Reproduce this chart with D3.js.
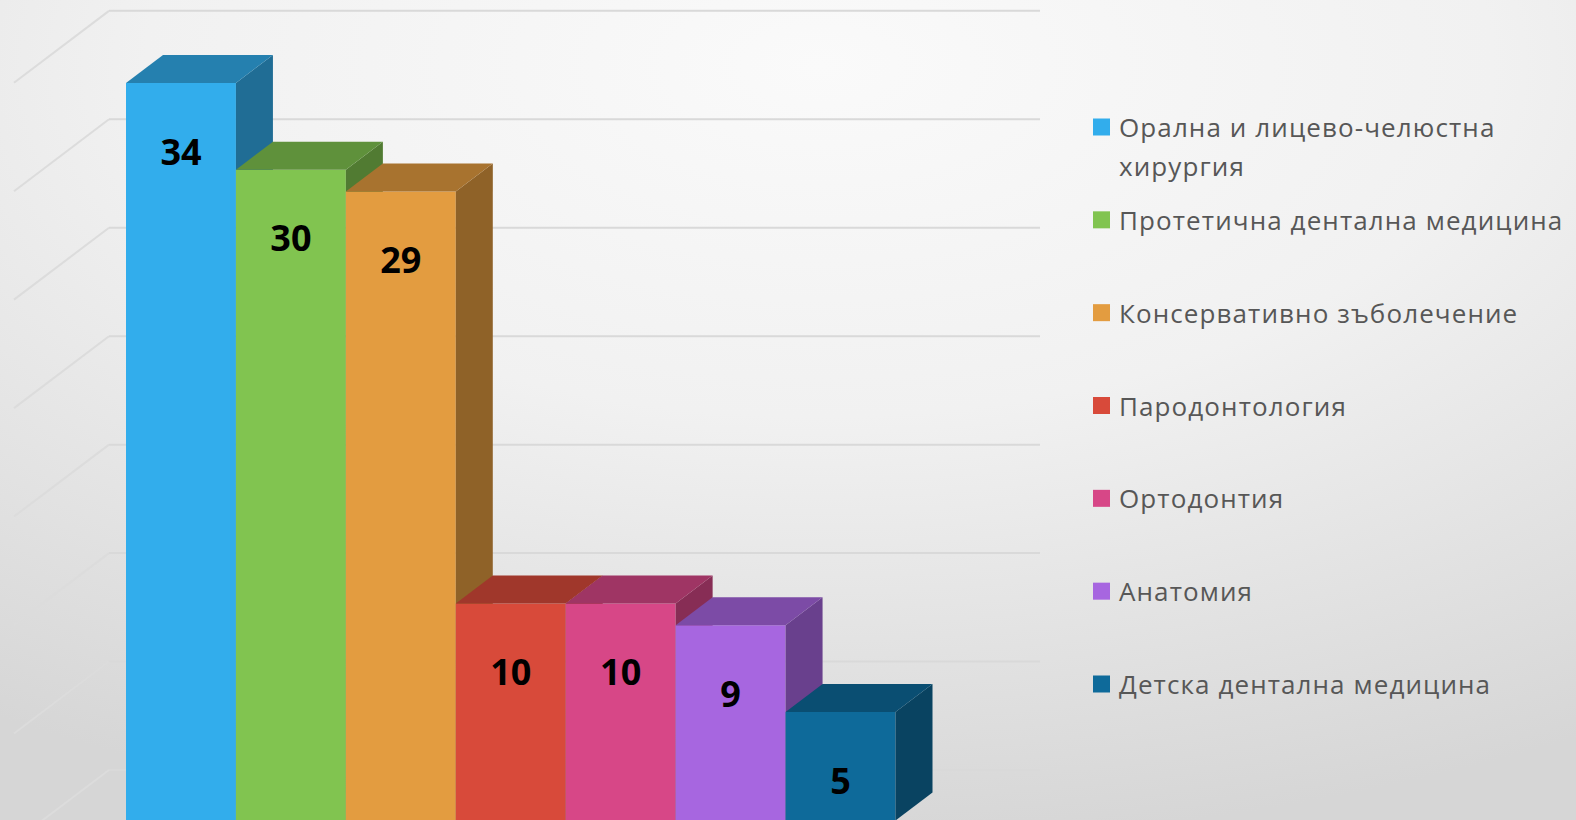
<!DOCTYPE html>
<html>
<head>
<meta charset="utf-8">
<script src="https://cdn.jsdelivr.net/npm/d3@7"></script>
<style>
  html, body { margin: 0; padding: 0; overflow: hidden; }
  svg { display: block; }
</style>
</head>
<body>
<svg id="chart" width="1576" height="820"></svg>
<script>
// ---- data ----
const categories = [
  "Орална и лицево-челюстна хирургия",
  "Протетична дентална медицина",
  "Консервативно зъболечение",
  "Пародонтология",
  "Ортодонтия",
  "Анатомия",
  "Детска дентална медицина"
];
const values = [34, 30, 29, 10, 10, 9, 5];
const tickValues = [0, 5, 10, 15, 20, 25, 30, 35];
const colors = ["#32ADEC", "#81C450", "#E39C40", "#D84A3A", "#D74787", "#A766E0", "#0E6A9A"];

// ---- layout ----
const W = 1576, H = 820;
const svg = d3.select("#chart");

// background
const defs = svg.append("defs");
const rg = defs.append("radialGradient").attr("id", "bg")
  .attr("cx", "52%").attr("cy", "8%").attr("r", "95%")
  .attr("fx", "52%").attr("fy", "8%");
rg.append("stop").attr("offset", "0%").attr("stop-color", "#fafafa");
rg.append("stop").attr("offset", "45%").attr("stop-color", "#f1f1f1");
rg.append("stop").attr("offset", "100%").attr("stop-color", "#d6d6d6");
svg.append("rect").attr("width", W).attr("height", H).attr("fill", "url(#bg)");

// front plane scales (bar fronts)
const yFront = d3.scaleLinear().domain([0, 35]).range([820.5, 820.5 - 35 * 21.69]);
const x = d3.scaleBand().domain(categories).range([126, 895.5]).paddingInner(0).paddingOuter(0);

const depthX = 37, depthY = 28;            // bar depth offset
const wallX = 66.7, wallY = 50.5;          // back wall offset from bar front plane
const sideX = -28.3, sideY = -21.4;        // side wall front edge offset from bar front plane
const wallLeft = 109;
const wallRight = 1040;

// gridlines on back wall + left side wall
const grid = svg.append("g");
tickValues.forEach(v => {
  const yb = yFront(v) - wallY;
  grid.append("line")
    .attr("x1", wallLeft).attr("x2", wallRight)
    .attr("y1", yb).attr("y2", yb)
    .attr("stroke", "#d9d9d9").attr("stroke-width", 2);
  grid.append("line")
    .attr("x1", wallLeft).attr("y1", yb)
    .attr("x2", wallLeft - (wallX - sideX)).attr("y2", yb + (wallY - sideY))
    .attr("stroke", "#dcdcdc").attr("stroke-width", 2);
});

// bars
function scaleColor(c, k) {
  const col = d3.rgb(c);
  return d3.rgb(col.r * k, col.g * k, col.b * k).formatHex();
}

const bars = svg.append("g");
categories.forEach((cat, i) => {
  const v = values[i];
  const x0 = x(cat), x1 = x(cat) + x.bandwidth();
  const yt = yFront(v), yb = yFront(0);
  const g = bars.append("g");
  g.append("path")
    .attr("d", `M${x0},${yt}L${x1},${yt}L${x1},${yb}L${x0},${yb}Z`)
    .attr("fill", colors[i]);
  g.append("path")
    .attr("d", `M${x1},${yt}L${x1 + depthX},${yt - depthY}L${x1 + depthX},${yb - depthY}L${x1},${yb}Z`)
    .attr("fill", scaleColor(colors[i], 0.63));
  g.append("path")
    .attr("d", `M${x0},${yt}L${x0 + depthX},${yt - depthY}L${x1 + depthX},${yt - depthY}L${x1},${yt}Z`)
    .attr("fill", scaleColor(colors[i], 0.74));
});

// data labels
const labels = svg.append("g");
categories.forEach((cat, i) => {
  labels.append("text")
    .attr("x", x(cat) + x.bandwidth() / 2)
    .attr("y", yFront(values[i]) + 68)
    .attr("text-anchor", "middle")
    .attr("dominant-baseline", "central")
    .attr("font-family", "'Open Sans', sans-serif")
    .attr("font-weight", 700)
    .attr("font-size", 36)
    .attr("fill", "#000")
    .text(values[i]);
});

// legend
const legend = svg.append("g");
const legendLines = [
  ["Орална и лицево-челюстна", "хирургия"],
  ["Протетична дентална медицина"],
  ["Консервативно зъболечение"],
  ["Пародонтология"],
  ["Ортодонтия"],
  ["Анатомия"],
  ["Детска дентална медицина"]
];
const legendY = d3.scaleLinear().domain([0, 6]).range([127, 684]);
categories.forEach((cat, i) => {
  const cy = legendY(i);
  legend.append("rect")
    .attr("x", 1093).attr("y", cy - 8.5)
    .attr("width", 17).attr("height", 17)
    .attr("fill", colors[i]);
  legendLines[i].forEach((ln, j) => {
    legend.append("text")
      .attr("x", 1119).attr("y", cy + j * 39)
      .attr("dominant-baseline", "central")
      .attr("font-family", "'Open Sans', sans-serif")
      .attr("font-size", 26)
      .attr("letter-spacing", 1.1)
      .attr("fill", "#575757")
      .text(ln);
  });
});
</script>
</body>
</html>
